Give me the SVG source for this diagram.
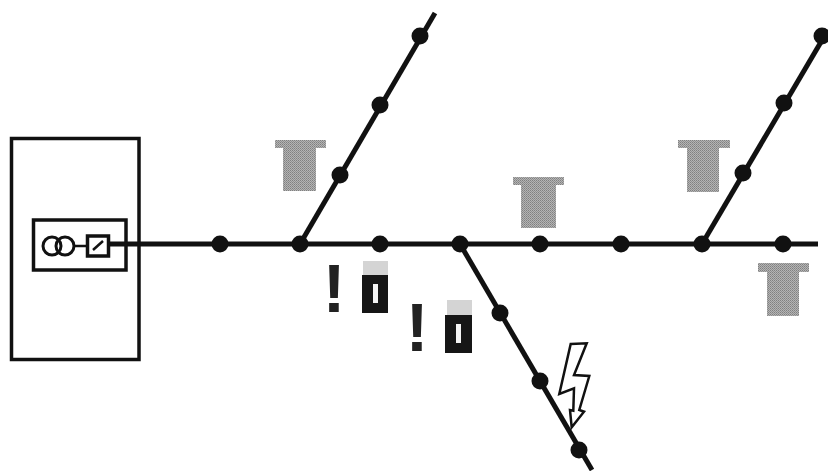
<svg xmlns="http://www.w3.org/2000/svg" width="828" height="471" viewBox="0 0 828 471">
<style>
.box{fill:none;stroke:#111;stroke-width:3.500}
.line{fill:none;stroke:#111;stroke-width:5;stroke-linecap:butt}
.dot{fill:#111}
.grey{fill:url(#dither)}
.fade{fill:#d4d4d4}
.dark{fill:#161616}
.win{fill:#f4f4f4}
.mark{font-family:"Liberation Sans",Arial,sans-serif;font-weight:700;font-size:68px;fill:#222;text-anchor:middle}
</style>
<defs>
<circle id="n" r="8.500" class="dot"/>
<pattern id="dither" width="2" height="2" patternUnits="userSpaceOnUse">
<rect width="2" height="2" fill="#b4b4b4"/><rect width="1" height="1" fill="#808080"/><rect x="1" y="1" width="1" height="1" fill="#909090"/>
</pattern>
</defs>
<rect width="828" height="471" fill="#fff"/>
<g id="connectors">
<path class="line" d="M110 244H818"/>
<path class="line" d="M300 244L435 13"/>
<path class="line" d="M702 244L828 30"/>
<path class="line" d="M460 244L592 470"/>
<path fill="none" stroke="#111" stroke-width="2.500" d="M74 246H87"/>
</g>
<g id="substation">
<rect class="box" x="11.500" y="138.500" width="127.500" height="221"/>
<rect class="box" x="33.500" y="220" width="92.500" height="50"/>
<circle cx="52" cy="246" r="9" fill="none" stroke="#111" stroke-width="3"/>
<circle cx="65" cy="246" r="9" fill="none" stroke="#111" stroke-width="3"/>
<rect x="87.500" y="236" width="21" height="20" fill="#fff" stroke="#111" stroke-width="3.500"/>
<path d="M93 250L103 241" stroke="#111" stroke-width="2.500" fill="none"/>
</g>
<g id="nodes-main">
<use href="#n" x="220" y="244"/><use href="#n" x="300" y="244"/><use href="#n" x="380" y="244"/><use href="#n" x="460" y="244"/><use href="#n" x="540" y="244"/><use href="#n" x="621" y="244"/><use href="#n" x="702" y="244"/><use href="#n" x="783" y="244"/>
</g>
<g id="nodes-branch-1"><use href="#n" x="340" y="175"/><use href="#n" x="380" y="105"/><use href="#n" x="420" y="36"/></g>
<g id="nodes-branch-2"><use href="#n" x="500" y="313"/><use href="#n" x="540" y="381"/><use href="#n" x="579" y="450"/></g>
<g id="nodes-branch-3"><use href="#n" x="743" y="173"/><use href="#n" x="784" y="103"/><use href="#n" x="822" y="36"/></g>
<g id="grey-t-1"><rect class="grey" x="275" y="140" width="51" height="8"/><rect class="grey" x="283" y="148" width="33" height="43"/></g>
<g id="grey-t-2"><rect class="grey" x="513" y="177" width="51" height="8"/><rect class="grey" x="521" y="185" width="35" height="43"/></g>
<g id="grey-t-3"><rect class="grey" x="678" y="140" width="52" height="8"/><rect class="grey" x="687" y="148" width="32" height="44"/></g>
<g id="grey-t-4"><rect class="grey" x="758" y="263" width="51" height="9"/><rect class="grey" x="767" y="272" width="32" height="44"/></g>
<g id="dark-1"><rect class="fade" x="363" y="261" width="25" height="14"/><rect class="dark" x="362" y="275" width="26" height="38"/><rect class="win" x="373" y="284" width="5" height="19"/></g>
<g id="dark-2"><rect class="fade" x="447" y="300" width="25" height="15"/><rect class="dark" x="445" y="315" width="27" height="38"/><rect class="win" x="456" y="324" width="5" height="19"/></g>
<g id="warnings"><text class="mark" x="334" y="312">!</text><text class="mark" x="417" y="351">!</text></g>
<g id="lightning"><path d="M570.700 344L586.700 343.300L574 375L589.300 376L579.300 410L584 411.700L571.700 427.300L570 410L573.300 410.700L574 388.300L559.300 394Z" fill="#fff" stroke="#111" stroke-width="2.500"/></g>
</svg>
